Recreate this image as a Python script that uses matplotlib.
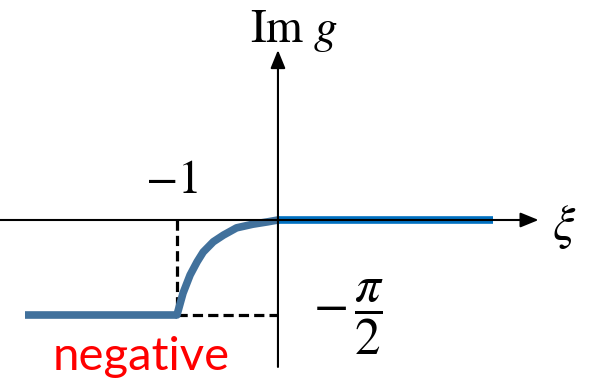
import matplotlib.pyplot as plt
import numpy as np

# Im g against xi: flat at -pi/2 for xi < -1, rising to 0 on (-1, 0), zero for xi > 0
xi_left = [-2.50, -1.00]
im_left = [-np.pi / 2, -np.pi / 2]

xi_mid = [-1.00, -0.94, -0.87, -0.80, -0.74, -0.64, -0.54, -0.41, -0.25, -0.10, 0.00]
im_mid = [-np.pi / 2, -1.21, -0.91, -0.69, -0.53, -0.36, -0.25, -0.13, -0.07, -0.03, 0.00]

xi_right = [0.00, 2.13]
im_right = [0.00, 0.00]

plt.rcParams['mathtext.fontset'] = 'stix'

fig = plt.figure(figsize=(5.94, 3.82), dpi=100)
ax = fig.add_axes([0, 0, 1, 1])
ax.set_xlim(-2.752, 3.129)
ax.set_ylim(-2.679, 3.638)
ax.axis('off')

# axes with arrowheads
ax.annotate('', xy=(2.58, 0), xytext=(-2.76, 0),
            arrowprops=dict(arrowstyle='-|>,head_length=1.1,head_width=0.45',
                            lw=1.5, color='black', shrinkA=0, shrinkB=0))
ax.annotate('', xy=(0, 2.81), xytext=(0, -2.43),
            arrowprops=dict(arrowstyle='-|>,head_length=1.1,head_width=0.45',
                            lw=1.5, color='black', shrinkA=0, shrinkB=0))

# dashed guides to xi = -1 and -pi/2
ax.plot([-1, -1], [0, -np.pi / 2], color='black', lw=2.3, ls=(0, (3.2, 1.6)))
ax.plot([-1, 0], [-np.pi / 2, -np.pi / 2], color='black', lw=2.3, ls=(0, (3.2, 1.6)))

ax.plot(xi_left, im_left, color='#41719C', lw=5.5, solid_capstyle='butt')
ax.plot(xi_mid, im_mid, color='#41719C', lw=5.5, solid_capstyle='round')
ax.plot(xi_right, im_right, color='#0070C0', lw=5.5, solid_capstyle='butt')

# labels
ax.text(0.16, 3.12, r'$\mathrm{Im}\ g$', fontsize=34, ha='center', va='center')
ax.text(2.83, -0.12, r'$\xi$', fontsize=36, ha='center', va='center')
ax.text(-1.05, 0.66, r'$-1$', fontsize=34, ha='center', va='center')
ax.text(0.70, -1.62, r'$-\,\dfrac{\pi}{2}$', fontsize=37, ha='center', va='center')
ax.text(-1.35, -2.27, 'negative', fontsize=34, color='#FF0000',
        family='Lato', ha='center', va='center')

fig.savefig('out.png', dpi=100)
